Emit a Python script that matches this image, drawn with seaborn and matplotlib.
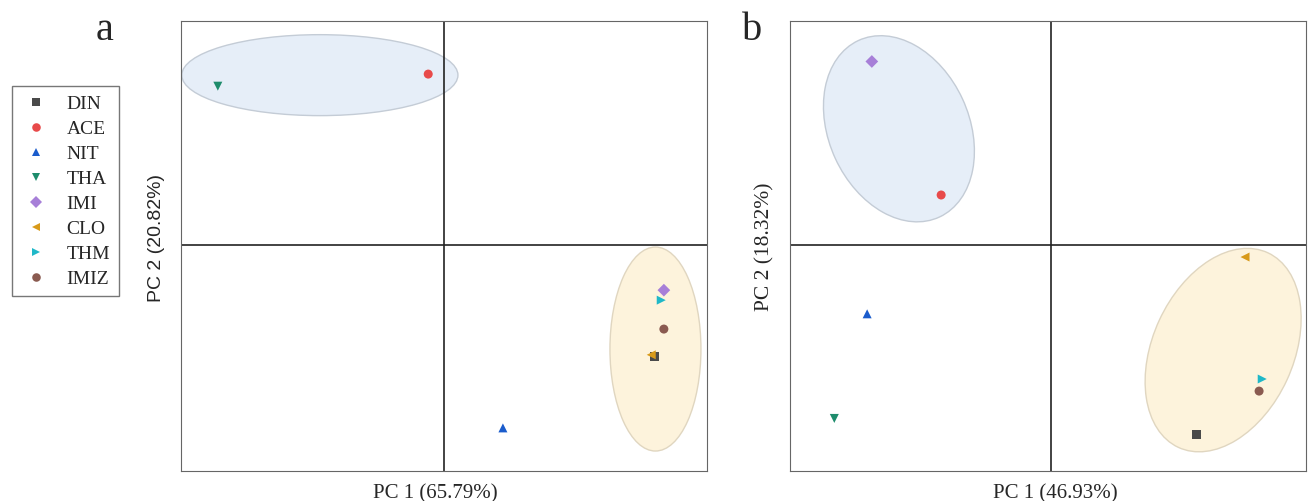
import matplotlib
matplotlib.use("Agg")
import matplotlib.pyplot as plt
from matplotlib.patches import Ellipse
import seaborn as sns
import pandas as pd

# ---- data ----
compounds = ["DIN", "ACE", "NIT", "THA", "IMI", "CLO", "THM", "IMIZ"]
pc1_a = [4.01, -0.30, 1.12, -4.30, 4.18, 3.94, 4.13, 4.18]
pc2_a = [-2.13, 3.25, -3.48, 3.02, -0.86, -2.09, -1.05, -1.60]
pc1_b = [2.80, -2.10, -3.52, -4.15, -3.43, 3.73, 4.06, 4.00]
pc2_b = [-3.60, 0.95, -1.31, -3.30, 3.49, -0.23, -2.55, -2.78]
label_a_x = "PC 1 (65.79%)"
label_a_y = "PC 2 (20.82%)"
label_b_x = "PC 1 (46.93%)"
label_b_y = "PC 2 (18.32%)"
# ellipses: (cx, cy, width, height, angle)
ell_a = [(-2.36, 3.23, 5.25, 1.54, 0), (4.02, -1.98, 1.73, 3.88, 0)]
ell_b = [(-2.91, 2.21, 2.69, 3.70, 25), (3.31, -2.00, 2.70, 4.08, -25)]

colors = {"DIN": "#4a4a4a", "ACE": "#e84a4a", "NIT": "#1a5ccc", "THA": "#1e8c6c",
          "IMI": "#a77fd8", "CLO": "#d89a1a", "THM": "#1fb8c8", "IMIZ": "#8a5a50"}
markers = {"DIN": "s", "ACE": "o", "NIT": "^", "THA": "v", "IMI": "D",
           "CLO": "<", "THM": ">", "IMIZ": "o"}
ell_colors = [("#e6eef8", "#c4ccd6"), ("#fdf3dc", "#e0d6c0")]

sns.set_style("white")
plt.rcParams["font.family"] = ["Liberation Serif", "DejaVu Serif"]

fig = plt.figure(figsize=(13.08, 5.02), dpi=100)
W, H = 1308, 502
ax_a = fig.add_axes([181 / W, 1 - 472 / H, 526 / W, 450 / H])
ax_b = fig.add_axes([790 / W, 1 - 472 / H, 516 / W, 450 / H])

df_a = pd.DataFrame({"PC1": pc1_a, "PC2": pc2_a, "cmp": compounds})
df_b = pd.DataFrame({"PC1": pc1_b, "PC2": pc2_b, "cmp": compounds})

panels = [
    dict(ax=ax_a, df=df_a, ells=ell_a, xl=(-5, 5), lx=label_a_x, ly=label_a_y,
         xlab=(0.483, -12 / 450), ylab=(-25 / 526, 0.52), yfs=14,
         yfam=["Liberation Sans", "DejaVu Sans"]),
    dict(ax=ax_b, df=df_b, ells=ell_b, xl=(-5, 4.9), lx=label_b_x, ly=label_b_y,
         xlab=(0.514, -12 / 450), ylab=(-25 / 516, 0.50), yfs=15.5,
         yfam=["Liberation Serif", "DejaVu Serif"]),
]
for i, p in enumerate(panels):
    ax = p["ax"]
    for (cx, cy, w, h, ang), (fc, ec) in zip(p["ells"], ell_colors):
        ax.add_patch(Ellipse((cx, cy), w, h, angle=ang, facecolor=fc,
                             edgecolor=ec, linewidth=1.0, zorder=1))
    sns.scatterplot(data=p["df"], x="PC1", y="PC2", hue="cmp", style="cmp",
                    hue_order=compounds, style_order=compounds,
                    palette=colors, markers=markers, s=42, linewidth=0,
                    ax=ax, legend=(i == 0), zorder=3)
    ax.axvline(0, color="#222222", lw=1.2, zorder=2)
    ax.axhline(0, color="#222222", lw=1.2, zorder=2)
    ax.set_xlim(*p["xl"])
    ax.set_ylim(-4.30, 4.26)
    ax.set_xticks([])
    ax.set_yticks([])
    ax.set_xlabel(p["lx"], fontsize=15)
    ax.set_ylabel(p["ly"], fontsize=p["yfs"], family=p["yfam"])
    ax.xaxis.set_label_coords(*p["xlab"])
    ax.yaxis.set_label_coords(*p["ylab"])
    ax.yaxis.label.set_va("center")
    for sp in ax.spines.values():
        sp.set_color("#666666")
        sp.set_linewidth(0.8)

handles, labels = ax_a.get_legend_handles_labels()
ax_a.get_legend().remove()
fig.legend(handles, labels, loc="upper left", bbox_to_anchor=(12 / W, 1 - 87 / H),
           borderaxespad=0, frameon=True, fancybox=False, edgecolor="#555555",
           fontsize=14, handlelength=1.6, handletextpad=0.75, borderpad=0.45,
           labelspacing=0.38, markerscale=0.95)

fig.text(105 / W, 1 - 31 / H, "a", fontsize=29, ha="center", va="center")
fig.text(752 / W, 1 - 31 / H, "b", fontsize=29, ha="center", va="center")

fig.savefig("out.png", dpi=100)
